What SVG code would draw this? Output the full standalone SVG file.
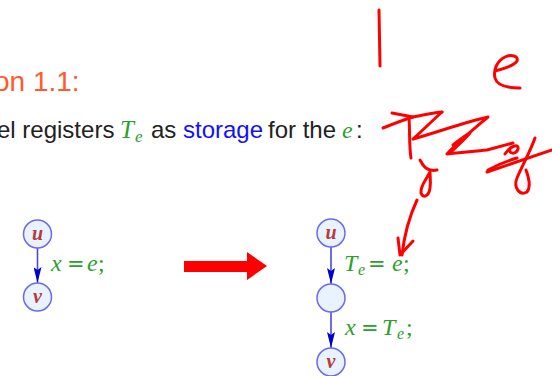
<svg xmlns="http://www.w3.org/2000/svg" width="552" height="376" viewBox="0 0 552 376">
<defs>
<style>
.title{font-family:"Liberation Sans",Arial,sans-serif;font-size:28px;fill:#ff5a2e}
.body{font-family:"Liberation Sans",Arial,sans-serif;font-size:24px;fill:#222}
.m{font-family:"Liberation Serif","Times New Roman",serif;font-style:italic;fill:#2ca02c}
.mr{font-family:"Liberation Serif","Times New Roman",serif;fill:#2ca02c}
.eq{font-family:"DejaVu Sans",sans-serif;font-size:21px;fill:#2ca02c}
.blue{fill:#1010ff}
.node circle{fill:#e8f3ff;stroke:#6a6aee;stroke-width:1.5}
.node text{font-family:"Liberation Serif","Times New Roman",serif;font-style:italic;font-weight:bold;font-size:20px;fill:#b83a3a;text-anchor:middle}
.edge{stroke:#4a4ae0;stroke-width:1.6;fill:none}
.ink{stroke:#ff0000;stroke-width:3;fill:none;stroke-linecap:round;stroke-linejoin:round}
</style>
<marker id="ah" viewBox="0 0 16 8" refX="16" refY="4" markerWidth="16" markerHeight="8" markerUnits="userSpaceOnUse" orient="auto">
<path d="M0,0 L16,4 L0,8 L3,4 Z" fill="#0000cc"/>
</marker>
</defs>
<rect width="552" height="376" fill="#fff"/>

<text class="title" x="-6" y="91">on 1.1:</text>

<text class="body" y="138"><tspan x="-3">el registers</tspan><tspan class="m" x="120" font-size="25">T</tspan><tspan class="m" x="135" dy="4" font-size="17">e</tspan><tspan x="151" dy="-4">as</tspan><tspan class="blue" x="183">storage</tspan><tspan x="268">for the</tspan><tspan class="m" x="342">e</tspan><tspan x="356">:</tspan></text>

<g id="connectors">
<line class="edge" x1="37.5" y1="248" x2="37.5" y2="283" marker-end="url(#ah)"/>
<line class="edge" x1="331" y1="247" x2="331" y2="284" marker-end="url(#ah)"/>
<line class="edge" x1="331" y1="312" x2="331" y2="348" marker-end="url(#ah)"/>
</g>

<g id="lu" class="node"><circle cx="37.5" cy="234" r="14"/><text x="37.5" y="240">u</text></g>
<g id="lv" class="node"><circle cx="37.5" cy="297" r="14"/><text x="37.5" y="303">v</text></g>
<g id="ru" class="node"><circle cx="331" cy="233" r="14"/><text x="331" y="239">u</text></g>
<g id="rm" class="node"><circle cx="331" cy="298" r="14"/></g>
<g id="rv" class="node"><circle cx="331" cy="362" r="14"/><text x="331" y="368">v</text></g>

<g id="labels" font-size="24">
<text y="271"><tspan class="m" x="51">x</tspan><tspan class="eq" x="67">=</tspan><tspan class="m" x="87">e</tspan><tspan class="mr" x="98">;</tspan></text>
<text y="271"><tspan class="m" x="344">T</tspan><tspan class="m" x="358" dy="4" font-size="16">e</tspan><tspan class="eq" x="368" dy="-4">=</tspan><tspan class="m" x="392">e</tspan><tspan class="mr" x="403">;</tspan></text>
<text y="335"><tspan class="m" x="345">x</tspan><tspan class="eq" x="361">=</tspan><tspan class="m" x="382">T</tspan><tspan class="m" x="397" dy="4" font-size="16">e</tspan><tspan class="mr" x="406" dy="-4">;</tspan></text>
</g>

<polygon points="184,261 247,261 247,252 267,266 247,280 247,272 184,272" fill="#ff0000"/>

<g id="handwriting">
<path class="ink" stroke-width="3.5" d="M379,10 L380,66"/>
<path class="ink" d="M495,71 C503,69 514,66 517,61 C519,56 511,54 505,57 C497,61 493,70 495,78 C497,86 508,88 520,88"/>
<path class="ink" d="M383,128 C393,124 403,120 413,117"/>
<path class="ink" d="M392,113 L413,117 C425,115 435,112 442,112"/>
<path class="ink" d="M409,118 C410,132 409,146 411,158"/>
<path class="ink" d="M442,112 C432,121 422,131 413,139 C438,132 465,122 488,117 C475,128 458,142 447,154 C460,153 475,151 487,150 L513,143"/>
<path class="ink" d="M453,145 C459,140 464,136 470,133 C464,140 456,147 450,153"/>
<path class="ink" d="M505,154 C510,146 519,143 518,149 C516,155 508,154 510,149"/>
<path class="ink" d="M487,172 L552,150"/>
<path class="ink" d="M488,170 C497,165 507,161 517,158"/>
<path class="ink" d="M535,138 C530,152 522,166 517,178 C513,188 520,196 527,192 C531,187 529,178 526,170"/>
<path class="ink" d="M420,160 C423,166 427,172 437,170"/>
<path class="ink" d="M430,172 C426,180 420,186 421,193 C423,199 429,196 430,188 C431,182 430,177 430,172"/>
<path class="ink" d="M417,200 C411,213 405,228 402,255"/>
<path class="ink" d="M398,238 L400,255 L413,241"/>
</g>
</svg>
